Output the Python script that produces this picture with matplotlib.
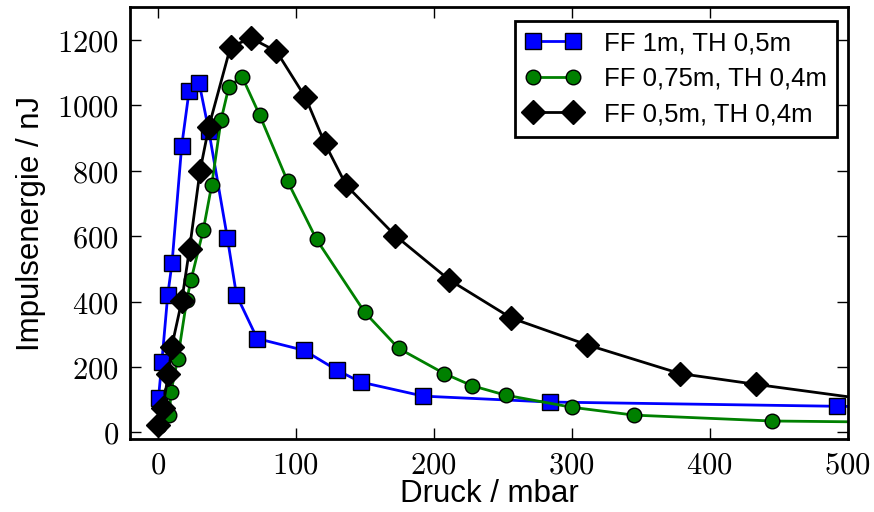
import numpy as np
import matplotlib
matplotlib.use('Agg')
import matplotlib.pyplot as plt
from matplotlib.ticker import FuncFormatter

plt.rcParams['font.family'] = ['Liberation Sans', 'DejaVu Sans']
plt.rcParams['mathtext.fontset'] = 'cm'

# pressure in mbar, pulse energy in nJ
p_ff1 = [0.5, 2.9, 7.2, 10.3, 17.3, 22.7, 30, 37, 50.4, 57, 72, 106, 130, 147, 192.5, 284, 492, 560]
e_ff1 = [106, 215, 421, 518, 876, 1045, 1067, 921, 595, 420, 287, 251, 190, 154, 111, 93, 80, 76]

p_ff075 = [1, 8.4, 9.5, 14.4, 21, 24, 33, 39, 45.8, 51.5, 61, 73.8, 94, 115, 150, 174.5, 207.6,
           227.6, 252, 300, 345, 445, 560]
e_ff075 = [20, 52, 123, 225, 406, 465, 620, 755, 955, 1057, 1088, 970, 768, 590, 367, 257, 180,
           143, 114, 77, 53, 35, 30]

p_ff05 = [0, 3.6, 7.7, 10, 17.3, 23, 30.6, 37, 52.7, 67.6, 86, 107, 121, 136.6, 172, 211, 256,
          311, 378.4, 433.5, 560]
e_ff05 = [24, 75, 180, 261, 401, 562, 800, 935, 1179, 1205, 1165, 1024, 884, 755, 602, 467, 350,
          268, 180, 147, 75]

labels = ['FF 1m, TH 0,5m', 'FF 0,75m, TH 0,4m', 'FF 0,5m, TH 0,4m']

fig = plt.figure(figsize=(8.74, 5.12), dpi=100)
ax = fig.add_axes([0.149, 0.1426, 0.821, 0.8434])

ax.plot(p_ff1, e_ff1, '-s', color='#0000ff', lw=2, ms=11, mec='black', mew=1, label=labels[0])
ax.plot(p_ff075, e_ff075, '-o', color='#008000', lw=2, ms=10.5, mec='black', mew=1, label=labels[1])
ax.plot(p_ff05, e_ff05, '-D', color='black', lw=2, ms=12.5, mec='black', mew=1, label=labels[2])

ax.set_xlim(-20, 500)
ax.set_ylim(-20, 1300)
ax.set_xticks([0, 100, 200, 300, 400, 500])
ax.set_yticks([0, 200, 400, 600, 800, 1000, 1200])
fmt = FuncFormatter(lambda v, pos: '$%d$' % v)
ax.xaxis.set_major_formatter(fmt)
ax.yaxis.set_major_formatter(fmt)
ax.tick_params(direction='in', length=8, width=1, labelsize=22, top=True, right=True, pad=8)
for s in ax.spines.values():
    s.set_linewidth(2)

ax.set_xlabel('Druck / mbar', fontsize=22.5, labelpad=-1)
ax.set_ylabel('Impulsenergie / nJ', fontsize=22.5, labelpad=8)

leg = ax.legend(loc='upper right', fontsize=18.5, fancybox=False, framealpha=1, numpoints=2,
                borderpad=0.4, handlelength=2.15, handletextpad=0.9, labelspacing=0.45,
                borderaxespad=0, bbox_to_anchor=(0.985, 0.968))
leg.get_frame().set_edgecolor('black')
leg.get_frame().set_linewidth(2)

fig.savefig('out.png', dpi=100)
